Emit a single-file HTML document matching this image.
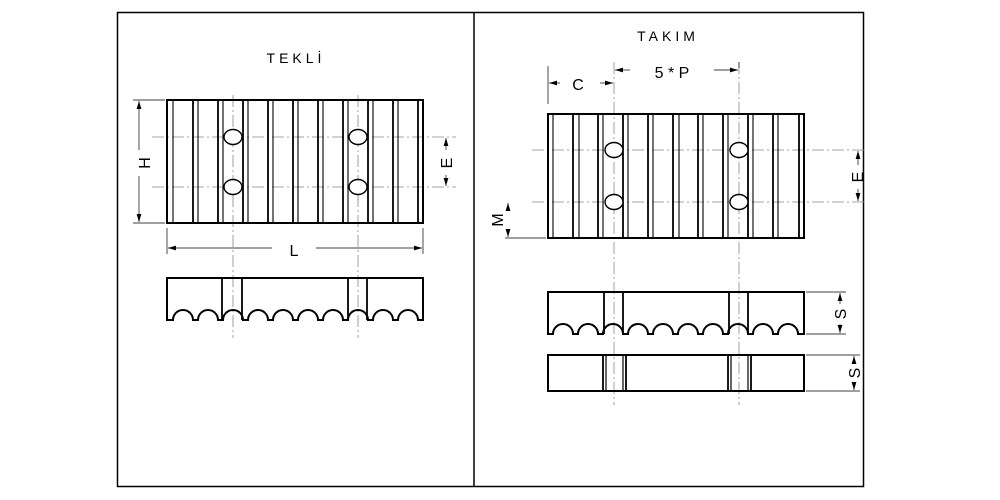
<!DOCTYPE html>
<html><head><meta charset="utf-8"><style>
html,body{margin:0;padding:0;background:#fff;}
svg{display:block;}
text{font-family:"Liberation Sans",Arial,sans-serif;fill:#000;}
</style></head><body>
<svg width="1000" height="500" viewBox="0 0 1000 500" xmlns="http://www.w3.org/2000/svg">
<defs>
<marker id="a" viewBox="0 0 10 6" refX="10" refY="3" markerWidth="8" markerHeight="5" orient="auto-start-reverse" markerUnits="userSpaceOnUse"><path d="M0,0 L10,3 L0,6 Z" fill="#000"/></marker>
</defs>
<rect x="117.5" y="12.5" width="746" height="474" fill="none" stroke="#000" stroke-width="1.5"/>
<line x1="474" y1="12" x2="474" y2="487" stroke="#000" stroke-width="1.5"/>

<text x="296" y="63" font-size="14" text-anchor="middle" letter-spacing="4">TEKLİ</text>
<text x="668" y="41" font-size="14" text-anchor="middle" letter-spacing="4">TAKIM</text>

<g stroke="#888" stroke-width="0.8" stroke-dasharray="12 3 2 3" fill="none">
<line x1="233" y1="95" x2="233" y2="338"/>
<line x1="358" y1="95" x2="358" y2="338"/>
<line x1="152" y1="137" x2="456" y2="137"/>
<line x1="152" y1="187" x2="456" y2="187"/>
<line x1="614" y1="62" x2="614" y2="405"/>
<line x1="739" y1="62" x2="739" y2="405"/>
<line x1="532" y1="150" x2="865" y2="150"/>
<line x1="532" y1="202" x2="865" y2="202"/>
</g>

<g stroke="#000" fill="none">
<rect x="167" y="100" width="256" height="123" stroke-width="2"/>
<g stroke-width="1.8">
<line x1="193" y1="100" x2="193" y2="223"/><line x1="218" y1="100" x2="218" y2="223"/><line x1="243" y1="100" x2="243" y2="223"/><line x1="268" y1="100" x2="268" y2="223"/><line x1="293" y1="100" x2="293" y2="223"/><line x1="318" y1="100" x2="318" y2="223"/><line x1="343" y1="100" x2="343" y2="223"/><line x1="368" y1="100" x2="368" y2="223"/><line x1="393" y1="100" x2="393" y2="223"/><line x1="418" y1="100" x2="418" y2="223"/>
</g>
<g stroke-width="1.1">
<line x1="173" y1="100" x2="173" y2="223"/><line x1="198" y1="100" x2="198" y2="223"/><line x1="223" y1="100" x2="223" y2="223"/><line x1="248" y1="100" x2="248" y2="223"/><line x1="273" y1="100" x2="273" y2="223"/><line x1="298" y1="100" x2="298" y2="223"/><line x1="323" y1="100" x2="323" y2="223"/><line x1="348" y1="100" x2="348" y2="223"/><line x1="373" y1="100" x2="373" y2="223"/><line x1="398" y1="100" x2="398" y2="223"/>
</g>
<g stroke-width="1.4" fill="#fff">
<ellipse cx="233" cy="137" rx="9" ry="7.5"/><ellipse cx="233" cy="187" rx="9" ry="7.5"/>
<ellipse cx="358" cy="137" rx="9" ry="7.5"/><ellipse cx="358" cy="187" rx="9" ry="7.5"/>
</g>
<path d="M167,278 L167,320 L173,320 A10,10 0 0 1 193,320 L198,320 A10,10 0 0 1 218,320 L223,320 A10,10 0 0 1 243,320 L248,320 A10,10 0 0 1 268,320 L273,320 A10,10 0 0 1 293,320 L298,320 A10,10 0 0 1 318,320 L323,320 A10,10 0 0 1 343,320 L348,320 A10,10 0 0 1 368,320 L373,320 A10,10 0 0 1 393,320 L398,320 A10,10 0 0 1 418,320 L423,320 L423,278 Z" stroke-width="2"/>
<line x1="222" y1="278" x2="222" y2="320" stroke-width="1.8"/>
<line x1="242" y1="278" x2="242" y2="320" stroke-width="1.8"/>
<line x1="348" y1="278" x2="348" y2="320" stroke-width="1.8"/>
<line x1="367" y1="278" x2="367" y2="320" stroke-width="1.8"/>
</g>

<g stroke="#000" stroke-width="0.7" fill="none">
<line x1="133" y1="100" x2="165" y2="100"/><line x1="133" y1="223" x2="165" y2="223"/>
<line x1="139" y1="101" x2="139" y2="150" marker-start="url(#a)"/>
<line x1="139" y1="176" x2="139" y2="222" marker-end="url(#a)"/>
<line x1="446" y1="138" x2="446" y2="150" marker-start="url(#a)"/>
<line x1="446" y1="175" x2="446" y2="186" marker-end="url(#a)"/>
<line x1="167" y1="228" x2="167" y2="254"/><line x1="423" y1="228" x2="423" y2="254"/>
<line x1="168" y1="248" x2="272" y2="248" marker-start="url(#a)"/>
<line x1="316" y1="248" x2="422" y2="248" marker-end="url(#a)"/>
</g>
<text x="0" y="0" font-size="16" text-anchor="middle" transform="translate(150,163) rotate(-90)">H</text>
<text x="0" y="0" font-size="16" text-anchor="middle" transform="translate(452,163) rotate(-90)">E</text>
<text x="294" y="256" font-size="16" text-anchor="middle">L</text>

<g stroke="#000" fill="none">
<rect x="548" y="114" width="256" height="124" stroke-width="2"/>
<g stroke-width="1.8">
<line x1="573" y1="114" x2="573" y2="238"/><line x1="598" y1="114" x2="598" y2="238"/><line x1="623" y1="114" x2="623" y2="238"/><line x1="648" y1="114" x2="648" y2="238"/><line x1="673" y1="114" x2="673" y2="238"/><line x1="698" y1="114" x2="698" y2="238"/><line x1="723" y1="114" x2="723" y2="238"/><line x1="748" y1="114" x2="748" y2="238"/><line x1="773" y1="114" x2="773" y2="238"/><line x1="799" y1="114" x2="799" y2="238"/>
</g>
<g stroke-width="1.1">
<line x1="553" y1="114" x2="553" y2="238"/><line x1="579" y1="114" x2="579" y2="238"/><line x1="603" y1="114" x2="603" y2="238"/><line x1="628" y1="114" x2="628" y2="238"/><line x1="653" y1="114" x2="653" y2="238"/><line x1="679" y1="114" x2="679" y2="238"/><line x1="703" y1="114" x2="703" y2="238"/><line x1="728" y1="114" x2="728" y2="238"/><line x1="753" y1="114" x2="753" y2="238"/><line x1="778" y1="114" x2="778" y2="238"/>
</g>
<g stroke-width="1.4" fill="#fff">
<ellipse cx="614" cy="150" rx="9" ry="7.5"/><ellipse cx="614" cy="202" rx="9" ry="7.5"/>
<ellipse cx="739" cy="150" rx="9" ry="7.5"/><ellipse cx="739" cy="202" rx="9" ry="7.5"/>
</g>
<path d="M548,292 L548,334 L553,334 A10,10 0 0 1 573,334 L578,334 A10,10 0 0 1 598,334 L603,334 A10,10 0 0 1 623,334 L628,334 A10,10 0 0 1 648,334 L653,334 A10,10 0 0 1 673,334 L678,334 A10,10 0 0 1 698,334 L703,334 A10,10 0 0 1 723,334 L728,334 A10,10 0 0 1 748,334 L753,334 A10,10 0 0 1 773,334 L778,334 A10,10 0 0 1 798,334 L804,334 L804,292 Z" stroke-width="2"/>
<line x1="604" y1="292" x2="604" y2="334" stroke-width="1.8"/>
<line x1="623" y1="292" x2="623" y2="334" stroke-width="1.8"/>
<line x1="729" y1="292" x2="729" y2="334" stroke-width="1.8"/>
<line x1="748" y1="292" x2="748" y2="334" stroke-width="1.8"/>
<rect x="548" y="355" width="256" height="36" stroke-width="2"/>
<line x1="603" y1="355" x2="603" y2="391" stroke-width="1.8"/>
<line x1="606" y1="355" x2="606" y2="391" stroke-width="1.2"/>
<line x1="623" y1="355" x2="623" y2="391" stroke-width="1.2"/>
<line x1="626" y1="355" x2="626" y2="391" stroke-width="1.8"/>
<line x1="728" y1="355" x2="728" y2="391" stroke-width="1.8"/>
<line x1="731" y1="355" x2="731" y2="391" stroke-width="1.2"/>
<line x1="748" y1="355" x2="748" y2="391" stroke-width="1.2"/>
<line x1="751" y1="355" x2="751" y2="391" stroke-width="1.8"/>
</g>

<g stroke="#000" stroke-width="0.7" fill="none">
<line x1="548" y1="66" x2="548" y2="104"/>
<line x1="739" y1="62" x2="739" y2="68"/>
<line x1="549" y1="83" x2="560" y2="83" marker-start="url(#a)"/>
<line x1="600" y1="83" x2="613" y2="83" marker-end="url(#a)"/>
<line x1="615" y1="70" x2="630" y2="70" marker-start="url(#a)"/>
<line x1="714" y1="70" x2="738" y2="70" marker-end="url(#a)"/>
<line x1="858" y1="151" x2="858" y2="165" marker-start="url(#a)"/>
<line x1="858" y1="189" x2="858" y2="201" marker-end="url(#a)"/>
<line x1="505" y1="238" x2="546" y2="238"/>
<line x1="508" y1="203" x2="508" y2="210" marker-start="url(#a)"/>
<line x1="508" y1="229" x2="508" y2="237" marker-end="url(#a)"/>
<line x1="806" y1="292" x2="846" y2="292"/><line x1="806" y1="334" x2="846" y2="334"/>
<line x1="840" y1="293" x2="840" y2="304" marker-start="url(#a)"/>
<line x1="840" y1="324" x2="840" y2="333" marker-end="url(#a)"/>
<line x1="806" y1="355" x2="860" y2="355"/><line x1="806" y1="391" x2="860" y2="391"/>
<line x1="854" y1="356" x2="854" y2="363" marker-start="url(#a)"/>
<line x1="854" y1="383" x2="854" y2="390" marker-end="url(#a)"/>
</g>
<text x="578" y="90" font-size="16" text-anchor="middle">C</text>
<text x="672" y="78" font-size="16" text-anchor="middle">5 * P</text>
<text x="0" y="0" font-size="16" text-anchor="middle" transform="translate(863,177) rotate(-90)">E</text>
<text x="0" y="0" font-size="16" text-anchor="middle" transform="translate(503,220) rotate(-90)">M</text>
<text x="0" y="0" font-size="16" text-anchor="middle" transform="translate(846,314) rotate(-90)">S</text>
<text x="0" y="0" font-size="16" text-anchor="middle" transform="translate(860,373) rotate(-90)">S</text>
</svg>
</body></html>
